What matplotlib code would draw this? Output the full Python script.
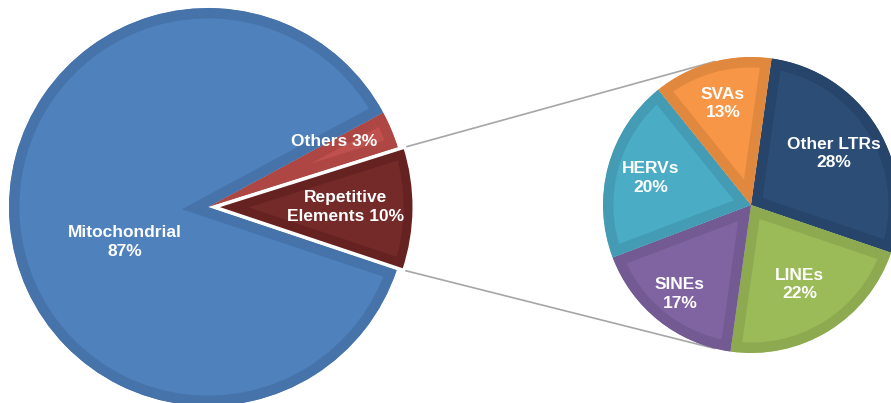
import matplotlib
matplotlib.use("Agg")
import matplotlib.pyplot as plt
import numpy as np
from matplotlib.patches import Wedge

# ---- data -------------------------------------------------------------
main_names = ["Repetitive\nElements", "Others", "Mitochondrial"]
main_values = [10, 3, 87]
main_seps = [" ", " ", "\n"]

rep_names = ["Other LTRs", "LINEs", "SINEs", "HERVs", "SVAs"]
rep_values = [28, 22, 17, 20, 13]

# ---- style ------------------------------------------------------------
main_fill = ["#732A29", "#C0504D", "#4F81BD"]
main_edge = ["#652221", "#AE4744", "#4773AB"]
rep_fill = ["#2C4D75", "#9BBB59", "#8064A2", "#4BACC6", "#F79646"]
rep_edge = ["#27456A", "#8DAA50", "#735A93", "#449CB4", "#E1883F"]

FONT = ["Liberation Sans", "DejaVu Sans"]
W, H = 891, 403

fig = plt.figure(figsize=(W / 100, H / 100), dpi=100)
ax = fig.add_axes([0, 0, 1, 1])


def bevel(wedges, edges, lw=15):
    """Darker inner rim: a stroke clipped to its own wedge."""
    for w, ec in zip(wedges, edges):
        w.set_edgecolor(ec)
        w.set_linewidth(lw)
        w.set_joinstyle("miter")
        w.set_clip_on(True)
        w.set_clip_path(w)
        w.set_zorder(2)


# main pie
main_center = (208, 196)
main_r = 199
mw, _ = ax.pie(main_values, colors=main_fill, radius=main_r,
               center=main_center, startangle=-18.5, counterclock=True,
               explode=[7, 0, 0], frame=False)
bevel(mw, main_edge)

# white outline on the exploded slice
rep = mw[0]
ax.add_patch(Wedge(rep.center, rep.r, rep.theta1, rep.theta2, fill=False,
                   ec="white", lw=2.2, zorder=3))

# breakdown pie
sub_center = (751, 198)
sub_r = 148
sw, _ = ax.pie(rep_values, colors=rep_fill, radius=sub_r,
               center=sub_center, startangle=82, counterclock=False,
               frame=False)
bevel(sw, rep_edge)

# connector lines from the exploded slice to the breakdown pie
attach = [(rep.theta2, 104), (rep.theta1, -104)]
for a_src, a_dst in attach:
    x0 = rep.center[0] + rep.r * np.cos(np.radians(a_src))
    y0 = rep.center[1] + rep.r * np.sin(np.radians(a_src))
    x1 = sub_center[0] + sub_r * np.cos(np.radians(a_dst))
    y1 = sub_center[1] + sub_r * np.sin(np.radians(a_dst))
    ax.plot([x0, x1], [y0, y1], color="#A6A6A6", lw=1.2, zorder=1,
            solid_capstyle="butt")

# labels: main pie (offsets in units of radius from pie centre)
main_label_pos = [(0.69, 0.0), (0.636, 0.327), (-0.417, -0.176)]
for name, val, sep, (fx, fy) in zip(main_names, main_values, main_seps,
                                   main_label_pos):
    ax.text(main_center[0] + fx * main_r, main_center[1] + fy * main_r,
            f"{name}{sep}{val}%", color="white", fontsize=12.5,
            fontweight="bold", family=FONT, ha="center", va="center",
            multialignment="center", linespacing=1.28, zorder=5)

# labels: breakdown pie (radial distance in units of radius)
rep_label_dist = [0.66, 0.63, 0.77, 0.70, 0.71]
for w, name, val, d in zip(sw, rep_names, rep_values, rep_label_dist):
    ang = np.radians(0.5 * (w.theta1 + w.theta2))
    ax.text(sub_center[0] + d * sub_r * np.cos(ang),
            sub_center[1] + d * sub_r * np.sin(ang),
            f"{name}\n{val}%", color="white", fontsize=12.5,
            fontweight="bold", family=FONT, ha="center", va="center",
            multialignment="center", linespacing=1.28, zorder=5)

ax.set_xlim(0, W)
ax.set_ylim(0, H)
ax.set_aspect("equal")
ax.axis("off")

fig.savefig("out.png", dpi=100, facecolor="white")
